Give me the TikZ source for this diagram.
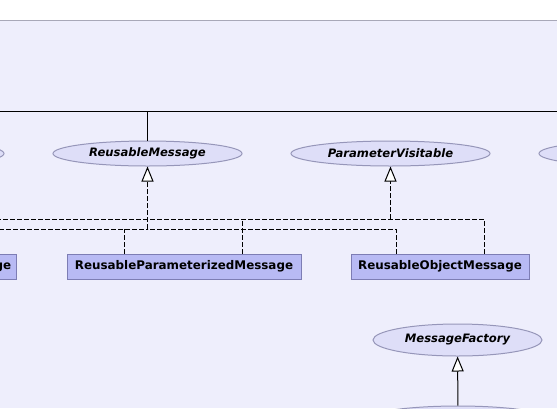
\documentclass[tikz,border=0pt]{standalone}
\usepackage{fontspec}
\setmainfont{DejaVu Sans}
\usepackage{xcolor}
\usetikzlibrary{shapes.geometric,arrows.meta}

\definecolor{diagbg}{RGB}{238,238,252}
\definecolor{ifacefill}{RGB}{222,222,248}
\definecolor{ifaceline}{RGB}{150,150,185}
\definecolor{clsfill}{RGB}{184,186,244}
\definecolor{clsline}{RGB}{125,125,180}
\definecolor{frameline}{RGB}{168,168,184}

\begin{document}
\begin{tikzpicture}[
    x=1pt, y=-1pt,
    line width=1pt,
    font=\fontsize{11.9}{14}\selectfont\bfseries,
    iface/.style={
        draw=ifaceline,
        fill=ifacefill,
        ellipse,
        inner sep=0pt,
        minimum height=25pt,
        font=\fontsize{11.6}{14}\selectfont\bfseries\itshape
    },
    cls/.style={
        draw=clsline,
        fill=clsfill,
        rectangle,
        inner sep=0pt,
        minimum height=25pt
    },
    dashline/.style={dash pattern=on 5pt off 2pt},
    realize/.style={dashline, -{Triangle[fill=white, length=15pt, width=12pt]}},
    extend/.style={-{Triangle[fill=white, length=15pt, width=12pt]}}
]
\useasboundingbox (0,0) rectangle (557,408);
\clip (0,0) rectangle (557,408);

% Background
\fill[diagbg] (0,20.5) rectangle (557,408);
\draw[frameline] (0,20.5) -- (557,20.5);

% Interfaces
\node[iface, minimum width=190pt] (leftif) at (-91,153.5) {};
\node[iface, minimum width=189pt] (rmsg) at (147.5,153.5) {ReusableMessage};
\node[iface, minimum width=199pt] (pvis) at (390.5,153.5) {ParameterVisitable};
\node[iface, minimum width=190pt] (rightif) at (634,153.5) {};
\node[iface, minimum width=169pt, minimum height=32pt] (mfac) at (457.5,340) {MessageFactory};
\node[iface, minimum width=200pt, minimum height=32pt] (mimpl) at (458,422) {};

% Classes
\node[cls, anchor=east, inner xsep=5pt] (leftcls) at (16.7,266.5) {Message};
\node[cls, minimum width=234pt] (rpm) at (184,266.5) {ReusableParameterizedMessage};
\node[cls, minimum width=178pt] (rom) at (440,266.5) {ReusableObjectMessage};

% Junctions
\coordinate (busL) at (0,111);
\coordinate (busR) at (557,111);
\coordinate (rjoin) at (147.5,229);
\coordinate (pjoin) at (390.5,219);

% Solid bus from above
\draw (busL) -- (busR);
\draw (rmsg.north |- busL) -- (rmsg.north);

% Realizations of ReusableMessage
\draw[realize] (rjoin) -- (rmsg);
\draw[dashline] (leftcls.north) |- (rjoin);
\draw[dashline] ([xshift=-44pt]rom.north) |- (rjoin);
\draw[dashline] ([xshift=-60pt]rpm.north) -- ([xshift=-60pt]rpm.north |- rjoin);

% Realizations of ParameterVisitable
\draw[realize] (pjoin) -- (pvis);
\draw[dashline] (leftcls.north) |- (pjoin);
\draw[dashline] ([xshift=44pt]rom.north) |- (pjoin);
\draw[dashline] ([xshift=58.7pt]rpm.north) -- ([xshift=58.7pt]rpm.north |- pjoin);

% MessageFactory
\draw[extend] (mimpl) -- (mfac);

\end{tikzpicture}
\end{document}
